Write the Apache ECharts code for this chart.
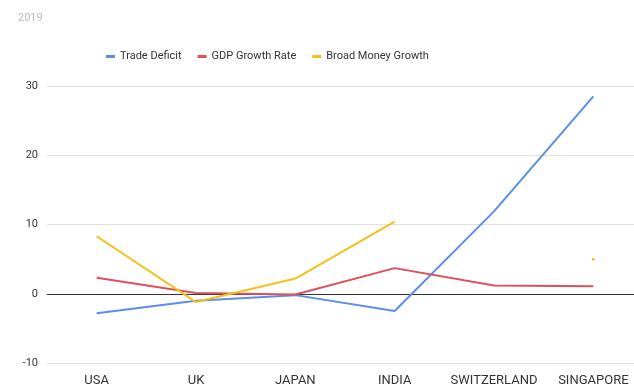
<!DOCTYPE html>
<html>
<head>
<meta charset="utf-8">
<script src="https://cdn.jsdelivr.net/npm/echarts@6/dist/echarts.min.js"></script>
<style>
  html, body { margin: 0; padding: 0; background: #fff; overflow: hidden; }
  /* a bit wider than the window: the original plot is cut off on the right */
  #chart { width: 646px; height: 387px; }
</style>
</head>
<body>
<div id="chart"></div>
<script>
// data
const countries = ["USA", "UK", "JAPAN", "INDIA", "SWITZERLAND", "SINGAPORE"];
const tradeDeficit = [-2.8, -1.0, -0.2, -2.5, 11.9, 28.5];
const gdpGrowth = [2.3, 0.1, -0.1, 3.7, 1.2, 1.1];
const broadMoney = [8.3, -1.2, 2.2, 10.4, null, 5.0];

const chart = echarts.init(document.getElementById("chart"));

const lineSeries = (name, data, color) => ({
  name: name,
  type: "line",
  data: data.map((v, i) => {
    // lone points (no neighbours) get a tiny dot, like the original
    const prev = i > 0 ? data[i - 1] : null;
    const next = i < data.length - 1 ? data[i + 1] : null;
    if (v !== null && prev === null && next === null) {
      return { value: v, symbol: "circle", symbolSize: 3 };
    }
    return v;
  }),
  symbol: "none",
  showSymbol: true,
  connectNulls: false,
  lineStyle: { color: color, width: 2 },
  itemStyle: { color: color },
  emphasis: { disabled: true },
  animation: false,
});

chart.setOption({
  title: {
    subtext: "2019",
    left: 13,
    top: -2,
    subtextStyle: { color: "#bbb", fontSize: 11, fontFamily: "Roboto" },
  },
  legend: {
    top: 46,
    left: 101,
    icon: "rect",
    itemWidth: 9,
    itemHeight: 3,
    itemGap: 16,
    textStyle: { color: "#333", fontSize: 11, fontFamily: "Roboto" },
    data: ["Trade Deficit", "GDP Growth Rate", "Broad Money Growth"],
  },
  grid: { left: 47, top: 86, width: 596, height: 278 },
  xAxis: {
    type: "category",
    data: countries,
    boundaryGap: true,
    axisLine: { onZero: true, lineStyle: { color: "#333", width: 1 } },
    axisTick: { show: false },
    axisLabel: { color: "#333", fontSize: 13, fontFamily: "Roboto", margin: 11, interval: 0 },
  },
  yAxis: {
    type: "value",
    min: -10,
    max: 30,
    interval: 10,
    axisLine: { show: false },
    axisTick: { show: false },
    axisLabel: { color: "#333", fontSize: 11, fontFamily: "Roboto", margin: 9 },
    splitLine: { lineStyle: { color: "#e0e0e0" } },
  },
  series: [
    lineSeries("Trade Deficit", tradeDeficit, "#5b8ee6"),
    lineSeries("GDP Growth Rate", gdpGrowth, "#e0505a"),
    lineSeries("Broad Money Growth", broadMoney, "#f2c21b"),
  ],
});
</script>
</body>
</html>
